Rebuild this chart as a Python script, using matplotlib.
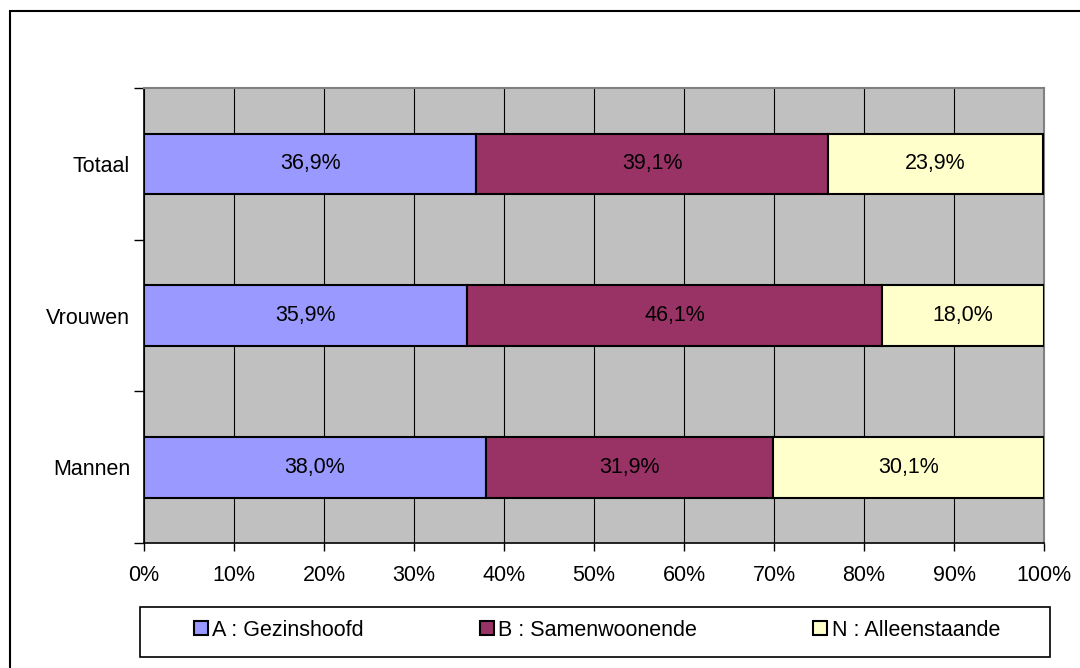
import matplotlib.pyplot as plt
from matplotlib.patches import Rectangle
import numpy as np

plt.rcParams['font.family'] = ['Liberation Sans', 'DejaVu Sans']

groepen = ['Mannen', 'Vrouwen', 'Totaal']
gezinshoofd = [38.0, 35.9, 36.9]
samenwonend = [31.9, 46.1, 39.1]
alleenstaand = [30.1, 18.0, 23.9]
reeksen = ['A : Gezinshoofd', 'B : Samenwoonende', 'N : Alleenstaande']
kleuren = ['#9999FF', '#993366', '#FFFFCC']

fig = plt.figure(figsize=(10.8, 6.68), dpi=100)
ax = fig.add_axes([144/1080, 1 - 543/668, 900/1080, 455/668])
ax.set_facecolor('#C0C0C0')

y = np.arange(len(groepen))
links = np.zeros(len(groepen))
for waarden, naam, kleur in zip([gezinshoofd, samenwonend, alleenstaand], reeksen, kleuren):
    bars = ax.barh(y, waarden, left=links, height=0.4, color=kleur,
                   edgecolor='black', linewidth=1.5, label=naam, zorder=3)
    ax.bar_label(bars, labels=[f'{v:.1f}%'.replace('.', ',') for v in waarden],
                 label_type='center', fontsize=15.5)
    links += np.array(waarden)

ax.set_xlim(0, 100)
ax.set_ylim(-0.5, 2.5)
ax.set_xticks(np.arange(0, 101, 10))
ax.set_xticklabels([f'{v}%' for v in range(0, 101, 10)], fontsize=15.5)
ax.grid(axis='x', color='black', linewidth=0.8, zorder=0)
ax.set_axisbelow(True)
ax.set_yticks(y)
ax.set_yticklabels(groepen, fontsize=15.5)
ax.set_yticks(np.arange(-0.5, 3, 1), minor=True)
ax.tick_params(axis='y', which='major', length=0, pad=10)
ax.tick_params(axis='y', which='minor', length=7, width=1, direction='out')
ax.tick_params(axis='x', length=6, width=1, direction='out', pad=10)
for kant in ['left', 'bottom']:
    ax.spines[kant].set_color('black')
    ax.spines[kant].set_linewidth(1.2)
for kant in ['top', 'right']:
    ax.spines[kant].set_color('#808080')
    ax.spines[kant].set_linewidth(1.5)

# legenda kader
fig.patches.append(Rectangle((140/1080, 1 - 657/668), 910/1080, 50/668,
                             transform=fig.transFigure, facecolor='white',
                             edgecolor='black', linewidth=1.2, zorder=0))
fig.legend(loc='center', bbox_to_anchor=(597/1080, 1 - 630/668), ncol=3,
           frameon=False, fontsize=15.5, handlelength=0.65, handleheight=0.65,
           handletextpad=0.2, columnspacing=5.4)

# rand rond de figuur
fig.patches.append(Rectangle((10/1080, -0.1), 1.2, 1 - 11/668 + 0.1,
                             transform=fig.transFigure, fill=False,
                             edgecolor='black', linewidth=1.5))

fig.savefig('out.png', dpi=100)
